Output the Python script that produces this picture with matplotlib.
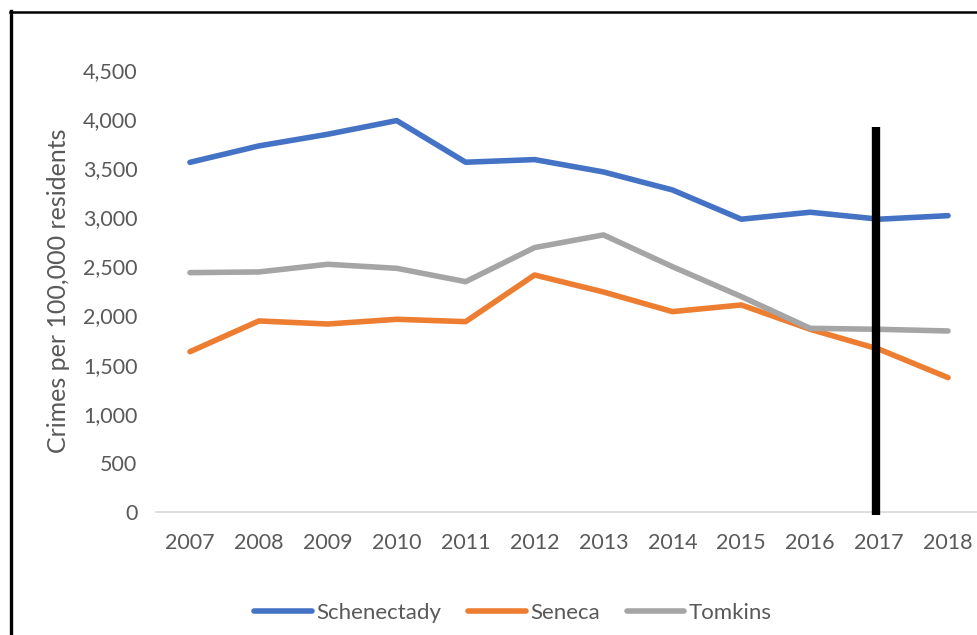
import matplotlib
matplotlib.use("Agg")
import matplotlib.pyplot as plt
from matplotlib.lines import Line2D

years = ["2007", "2008", "2009", "2010", "2011", "2012", "2013", "2014", "2015", "2016", "2017", "2018"]
schenectady = [3560, 3727, 3846, 3985, 3561, 3588, 3462, 3279, 2981, 3052, 2981, 3017]
seneca = [1632, 1945, 1914, 1962, 1938, 2413, 2240, 2040, 2108, 1860, 1657, 1368]
tomkins = [2437, 2444, 2522, 2481, 2345, 2692, 2821, 2498, 2193, 1870, 1860, 1843]
marker_year = "2017"
marker_top = 3920

plt.rcParams['font.family'] = ['Lato', 'DejaVu Sans']

W, H = 978, 635
fig = plt.figure(figsize=(W / 100, H / 100), dpi=100)
left_px, right_px, bottom_px, top_px = 155.5, 982.5, 512, 70
ax = fig.add_axes([left_px / W, (H - bottom_px) / H, (right_px - left_px) / W, (bottom_px - top_px) / H])

x = list(range(len(years)))
ax.plot(x, schenectady, color="#4472C4", lw=4, label="Schenectady", solid_capstyle="round", clip_on=False)
ax.plot(x, seneca, color="#ED7D31", lw=4, label="Seneca", solid_capstyle="round", clip_on=False)
ax.plot(x, tomkins, color="#A5A5A5", lw=4, label="Tomkins", solid_capstyle="round", clip_on=False)

mi = years.index(marker_year)
ax.plot([mi - 0.04, mi - 0.04], [-30, marker_top], color="black", lw=6, solid_capstyle="butt", clip_on=False, zorder=5)

ax.set_xlim(-0.5, len(years) - 0.5)
ax.set_ylim(0, 4500)
ax.set_yticks(range(0, 4501, 500))
ax.set_yticklabels([f"{v:,}" for v in range(0, 4501, 500)])
ax.set_xticks(x)
ax.set_xticklabels(years)

for s in ["top", "right", "left"]:
    ax.spines[s].set_visible(False)
ax.spines["bottom"].set_color("#D9D9D9")
ax.spines["bottom"].set_linewidth(1.2)
ax.tick_params(axis="both", length=0, labelsize=15.5, labelcolor="#595959")
ax.tick_params(axis="y", pad=13)
ax.tick_params(axis="x", pad=15)
ax.set_ylabel("Crimes per 100,000 residents", fontsize=18, color="#595959")
ax.yaxis.set_label_coords((70 - left_px) / (right_px - left_px), 0.5)

leg = fig.legend(loc="center", bbox_to_anchor=(513 / W, 1 - 613 / H), ncol=3, frameon=False,
                 fontsize=16, handlelength=2.6, handletextpad=0.2, columnspacing=1.2,
                 labelcolor="#595959")
for h in leg.get_lines():
    h.set_linewidth(4)

fig.add_artist(Line2D([11.5 / W, 11.5 / W], [0, 1 - 11 / H], color="black", lw=2.4, transform=fig.transFigure))
fig.add_artist(Line2D([10 / W, 1], [1 - 12 / H, 1 - 12 / H], color="black", lw=1.8, transform=fig.transFigure))

fig.savefig("out.png", dpi=100)
